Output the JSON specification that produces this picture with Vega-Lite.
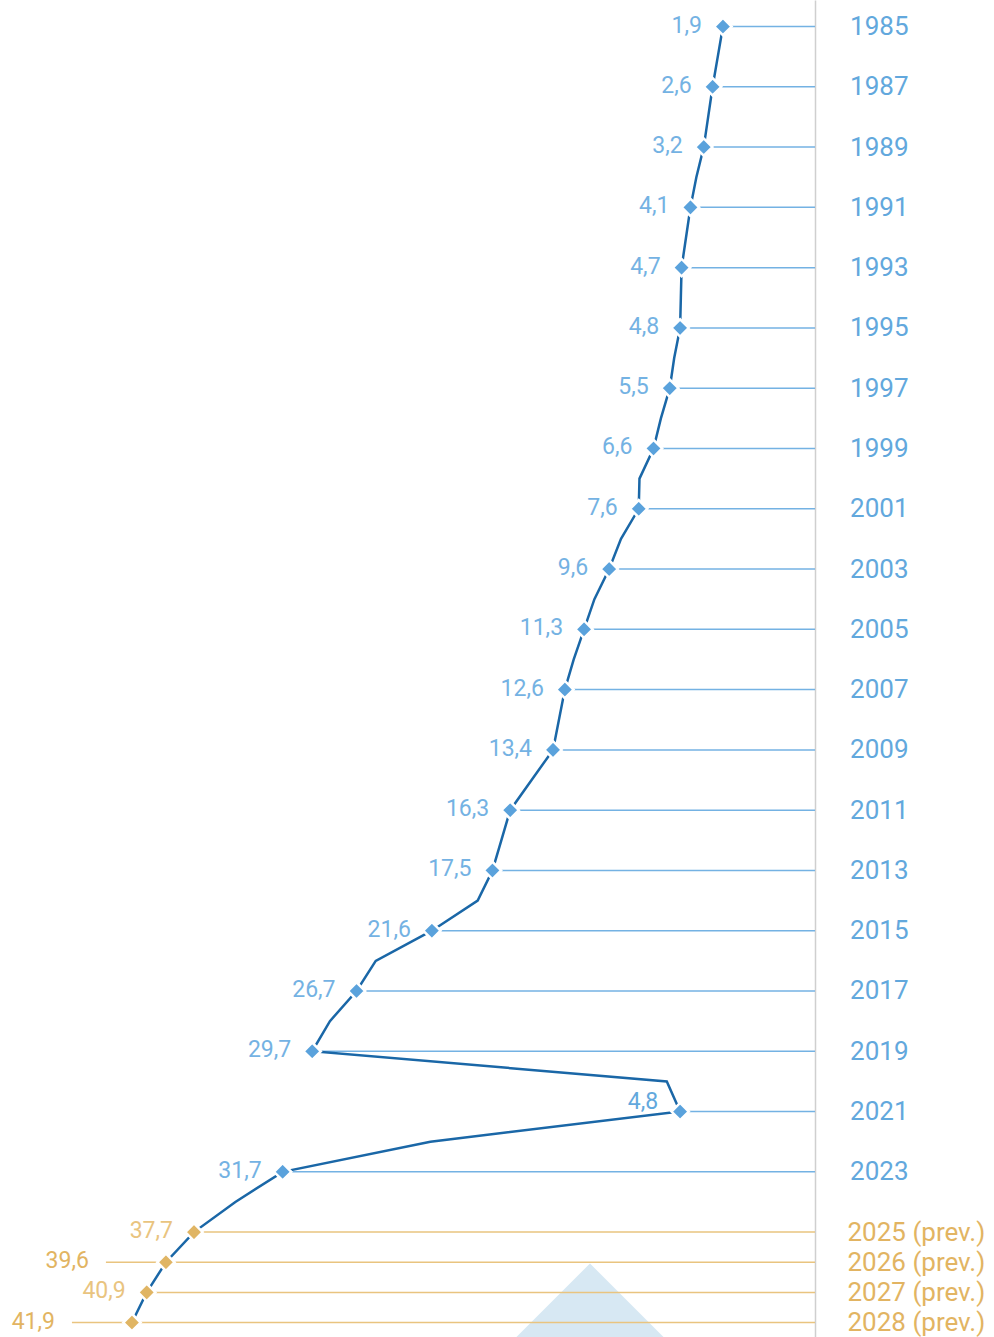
{
  "$schema": "https://vega.github.io/schema/vega-lite/v6.json",
  "width": 815,
  "height": 1337,
  "autosize": {"type": "none"},
  "padding": {"left": 0, "right": 179, "top": 0, "bottom": 0},
  "background": "white",
  "config": {
    "view": {"stroke": null},
    "locale": {"number": {"decimal": ",", "thousands": ".", "grouping": [3], "currency": ["", " €"]}}
  },
  "datasets": {
    "series": [
      {"year": 1985, "value": 1.9, "period": "actual"},
      {"year": 1986, "value": 2.25, "period": "actual"},
      {"year": 1987, "value": 2.6, "period": "actual"},
      {"year": 1988, "value": 2.9, "period": "actual"},
      {"year": 1989, "value": 3.2, "period": "actual"},
      {"year": 1990, "value": 3.7, "period": "actual"},
      {"year": 1991, "value": 4.1, "period": "actual"},
      {"year": 1992, "value": 4.4, "period": "actual"},
      {"year": 1993, "value": 4.7, "period": "actual"},
      {"year": 1994, "value": 4.75, "period": "actual"},
      {"year": 1995, "value": 4.8, "period": "actual"},
      {"year": 1996, "value": 5.2, "period": "actual"},
      {"year": 1997, "value": 5.5, "period": "actual"},
      {"year": 1998, "value": 6.1, "period": "actual"},
      {"year": 1999, "value": 6.6, "period": "actual"},
      {"year": 2000, "value": 7.55, "period": "actual"},
      {"year": 2001, "value": 7.6, "period": "actual"},
      {"year": 2002, "value": 8.8, "period": "actual"},
      {"year": 2003, "value": 9.6, "period": "actual"},
      {"year": 2004, "value": 10.6, "period": "actual"},
      {"year": 2005, "value": 11.3, "period": "actual"},
      {"year": 2006, "value": 12.0, "period": "actual"},
      {"year": 2007, "value": 12.6, "period": "actual"},
      {"year": 2008, "value": 13.0, "period": "actual"},
      {"year": 2009, "value": 13.4, "period": "actual"},
      {"year": 2010, "value": 14.85, "period": "actual"},
      {"year": 2011, "value": 16.3, "period": "actual"},
      {"year": 2012, "value": 16.9, "period": "actual"},
      {"year": 2013, "value": 17.5, "period": "actual"},
      {"year": 2014, "value": 18.5, "period": "actual"},
      {"year": 2015, "value": 21.6, "period": "actual"},
      {"year": 2016, "value": 25.4, "period": "actual"},
      {"year": 2017, "value": 26.7, "period": "actual"},
      {"year": 2018, "value": 28.5, "period": "actual"},
      {"year": 2019, "value": 29.7, "period": "actual"},
      {"year": 2020, "value": 5.7, "period": "actual"},
      {"year": 2021, "value": 4.8, "period": "actual"},
      {"year": 2022, "value": 21.7, "period": "actual"},
      {"year": 2023, "value": 31.7, "period": "actual"},
      {"year": 2024, "value": 34.9, "period": "actual"},
      {"year": 2025, "value": 37.7, "period": "forecast"},
      {"year": 2026, "value": 39.6, "period": "forecast"},
      {"year": 2027, "value": 40.9, "period": "forecast"},
      {"year": 2028, "value": 41.9, "period": "forecast"}
    ],
    "deco": [{"year": 2026.04, "value": 10.9}]
  },
  "encoding": {
    "y": {
      "field": "year",
      "type": "quantitative",
      "scale": {"domain": [1984.12, 2028.48], "reverse": true, "nice": false, "zero": false},
      "axis": {
        "orient": "right",
        "title": null,
        "values": [1985, 1987, 1989, 1991, 1993, 1995, 1997, 1999, 2001, 2003, 2005, 2007, 2009, 2011, 2013, 2015, 2017, 2019, 2021, 2023, 2025, 2026, 2027, 2028],
        "labelExpr": "datum.value > 2024 ? datum.value + ' (prev.)' : '' + datum.value",
        "ticks": false,
        "grid": false,
        "domainColor": "#cfcfcf",
        "domainWidth": 1.5,
        "labelFont": "Roboto",
        "labelFontSize": 26,
        "labelBaseline": "middle",
        "labelColor": {"condition": {"test": "datum.value > 2024", "value": "#e2b462"}, "value": "#62a8dd"},
        "labelAlign": {"condition": {"test": "datum.value > 2024", "value": "left"}, "value": "right"},
        "labelPadding": {"condition": {"test": "datum.value > 2024", "value": 32}, "value": 93},
        "labelOverlap": false,
        "labelBound": false,
        "labelFlush": false
      }
    }
  },
  "layer": [
    {
      "data": {"name": "deco"},
      "mark": {"type": "point", "shape": "M0,0L1,1L-1,1Z", "size": 40000, "filled": true, "color": "#d7e8f3", "opacity": 1},
      "encoding": {
        "x": {"field": "value", "type": "quantitative", "scale": {"domain": [-4.33, 50.83], "reverse": true, "nice": false, "zero": false}, "axis": null}
      }
    },
    {
      "data": {"name": "series"},
      "transform": [{"filter": "datum.year % 2 == 1 || datum.year >= 2025"}],
      "mark": {"type": "rule", "strokeWidth": 1.5},
      "encoding": {
        "x": {"field": "value", "type": "quantitative"},
        "x2": {"datum": -4.33},
        "color": {"field": "period", "type": "nominal", "scale": {"domain": ["actual", "forecast"], "range": ["#74b2e3", "#e9c47f"]}, "legend": null}
      }
    },
    {
      "data": {"name": "series"},
      "transform": [{"filter": "datum.year == 2026 || datum.year == 2028"}],
      "mark": {"type": "rule", "strokeWidth": 1.5, "color": "#e9c47f", "xOffset": -60},
      "encoding": {
        "x": {"field": "value", "type": "quantitative"},
        "x2": {"field": "value"}
      }
    },
    {
      "data": {"name": "series"},
      "mark": {"type": "line", "color": "#1a67a7", "strokeWidth": 2.5},
      "encoding": {
        "x": {"field": "value", "type": "quantitative"},
        "order": {"field": "year"}
      }
    },
    {
      "data": {"name": "series"},
      "transform": [{"filter": "datum.year % 2 == 1 || datum.year >= 2025"}],
      "mark": {"type": "point", "shape": "diamond", "filled": true, "size": 300, "stroke": "white", "strokeWidth": 2.5, "opacity": 1},
      "encoding": {
        "x": {"field": "value", "type": "quantitative"},
        "fill": {"field": "period", "type": "nominal", "scale": {"domain": ["actual", "forecast"], "range": ["#5aa2dc", "#e0b564"]}, "legend": null}
      }
    },
    {
      "data": {"name": "series"},
      "transform": [{"filter": "(datum.year % 2 == 1 || datum.year >= 2025) && datum.year != 2021 && datum.year != 2026 && datum.year != 2028"}],
      "mark": {"type": "text", "align": "right", "baseline": "middle", "dx": -21, "dy": -1, "font": "Roboto", "fontSize": 23},
      "encoding": {
        "x": {"field": "value", "type": "quantitative"},
        "text": {"field": "value", "type": "quantitative", "format": ".1f"},
        "color": {"field": "period", "type": "nominal", "scale": {"domain": ["actual", "forecast"], "range": ["#62a8dd", "#e2b462"]}, "legend": null}
      }
    },
    {
      "data": {"name": "series"},
      "transform": [{"filter": "datum.year == 2021"}],
      "mark": {"type": "text", "align": "right", "baseline": "middle", "dx": -22, "dy": -10, "font": "Roboto", "fontSize": 23, "color": "#62a8dd"},
      "encoding": {
        "x": {"field": "value", "type": "quantitative"},
        "text": {"field": "value", "type": "quantitative", "format": ".1f"}
      }
    },
    {
      "data": {"name": "series"},
      "transform": [{"filter": "datum.year == 2026 || datum.year == 2028"}],
      "mark": {"type": "text", "align": "right", "baseline": "middle", "dx": -77, "dy": -1, "font": "Roboto", "fontSize": 23, "color": "#e2b462"},
      "encoding": {
        "x": {"field": "value", "type": "quantitative"},
        "text": {"field": "value", "type": "quantitative", "format": ".1f"}
      }
    }
  ]
}
